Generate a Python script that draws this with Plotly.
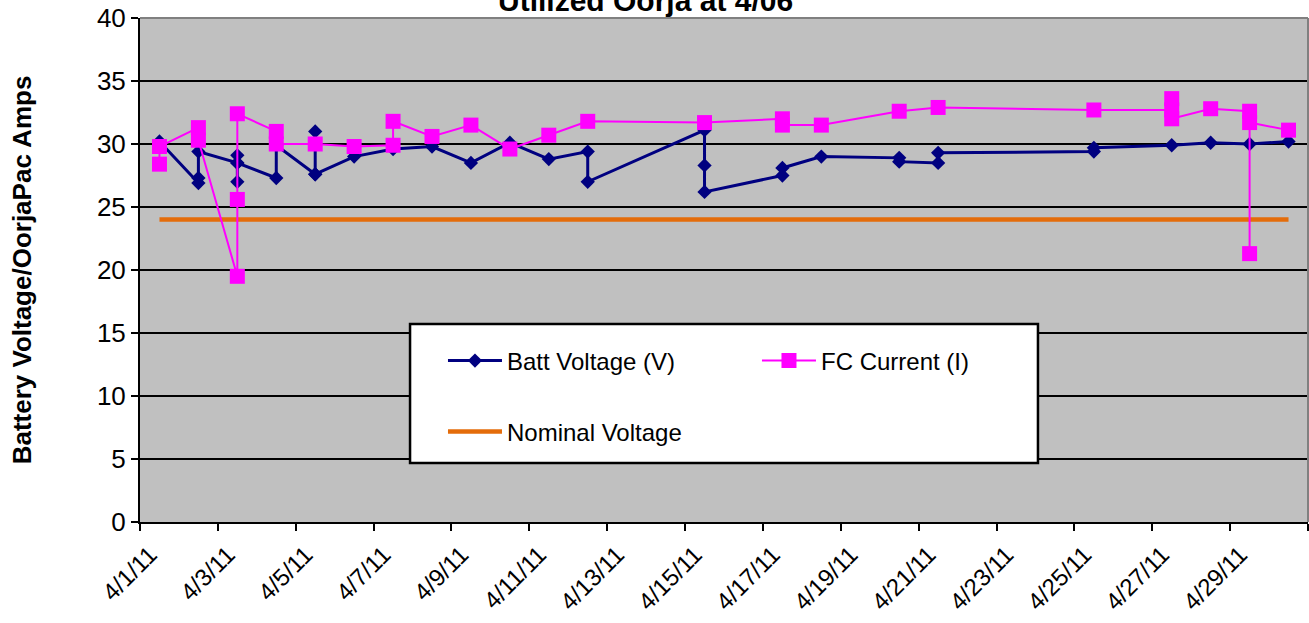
import plotly.graph_objects as go

# Battery voltage readings (V), in logging order
batt_times = [
    "2011-04-01 12:00",
    "2011-04-02 12:00", "2011-04-02 12:00", "2011-04-02 12:00",
    "2011-04-03 12:00", "2011-04-03 12:00", "2011-04-03 12:00", "2011-04-03 12:00",
    "2011-04-04 12:00", "2011-04-04 12:00",
    "2011-04-05 12:00", "2011-04-05 12:00", "2011-04-05 12:00",
    "2011-04-06 12:00",
    "2011-04-07 12:00",
    "2011-04-08 12:00",
    "2011-04-09 12:00",
    "2011-04-10 12:00",
    "2011-04-11 12:00",
    "2011-04-12 12:00", "2011-04-12 12:00",
    "2011-04-15 12:00", "2011-04-15 12:00", "2011-04-15 12:00",
    "2011-04-17 12:00", "2011-04-17 12:00",
    "2011-04-18 12:00",
    "2011-04-20 12:00", "2011-04-20 12:00",
    "2011-04-21 12:00", "2011-04-21 12:00",
    "2011-04-25 12:00", "2011-04-25 12:00",
    "2011-04-27 12:00",
    "2011-04-28 12:00",
    "2011-04-29 12:00",
    "2011-04-30 12:00",
]
batt_volts = [
    30.2,
    26.9, 27.3, 29.4,
    28.5, 27.0, 29.1, 28.5,
    27.3, 29.9,
    27.6, 31.0, 27.6,
    29.0,
    29.6,
    29.8,
    28.5,
    30.1,
    28.8,
    29.4, 27.0,
    31.1, 28.3, 26.2,
    27.5, 28.1,
    29.0,
    28.9, 28.6,
    28.5, 29.3,
    29.4, 29.7,
    29.9,
    30.1,
    30.0,
    30.2,
]

# Fuel cell current readings (A), in logging order
fc_times = [
    "2011-04-01 12:00", "2011-04-01 12:00",
    "2011-04-02 12:00", "2011-04-02 12:00",
    "2011-04-03 12:00", "2011-04-03 12:00", "2011-04-03 12:00",
    "2011-04-04 12:00", "2011-04-04 12:00",
    "2011-04-05 12:00",
    "2011-04-06 12:00",
    "2011-04-07 12:00", "2011-04-07 12:00",
    "2011-04-08 12:00",
    "2011-04-09 12:00",
    "2011-04-10 12:00",
    "2011-04-11 12:00",
    "2011-04-12 12:00",
    "2011-04-15 12:00",
    "2011-04-17 12:00", "2011-04-17 12:00",
    "2011-04-18 12:00",
    "2011-04-20 12:00",
    "2011-04-21 12:00",
    "2011-04-25 12:00",
    "2011-04-27 12:00", "2011-04-27 12:00", "2011-04-27 12:00",
    "2011-04-28 12:00",
    "2011-04-29 12:00", "2011-04-29 12:00", "2011-04-29 12:00",
    "2011-04-30 12:00",
]
fc_amps = [
    28.4, 29.8,
    31.3, 30.3,
    19.5, 25.6, 32.4,
    31.0, 30.0,
    30.0,
    29.8,
    29.9, 31.8,
    30.6,
    31.5,
    29.6,
    30.7,
    31.8,
    31.7,
    32.0, 31.5,
    31.5,
    32.6,
    32.9,
    32.7,
    32.7, 33.6, 32.0,
    32.8,
    32.6, 21.3, 31.7,
    31.1,
]

# Nominal pack voltage reference line
nominal_times = ["2011-04-01 12:00", "2011-04-30 12:00"]
nominal_volts = [24, 24]

# Date axis ticks every two days
tick_dates = [
    "2011-04-01", "2011-04-03", "2011-04-05", "2011-04-07", "2011-04-09",
    "2011-04-11", "2011-04-13", "2011-04-15", "2011-04-17", "2011-04-19",
    "2011-04-21", "2011-04-23", "2011-04-25", "2011-04-27", "2011-04-29",
    "2011-05-01",
]
tick_labels = [
    "4/1/11", "4/3/11", "4/5/11", "4/7/11", "4/9/11",
    "4/11/11", "4/13/11", "4/15/11", "4/17/11", "4/19/11",
    "4/21/11", "4/23/11", "4/25/11", "4/27/11", "4/29/11",
    "",
]

FONT = "Liberation Sans, Arial, sans-serif"
NAVY = "#000080"
MAGENTA = "#FF00FF"
ORANGE = "#E46C0A"

fig = go.Figure()

fig.add_trace(go.Scatter(
    x=nominal_times, y=nominal_volts, name="Nominal Voltage",
    mode="lines", line=dict(color=ORANGE, width=4.5),
    legend="legend2",
))
fig.add_trace(go.Scatter(
    x=batt_times, y=batt_volts, name="Batt Voltage (V)",
    mode="lines+markers",
    line=dict(color=NAVY, width=3),
    marker=dict(symbol="diamond", size=11, color=NAVY),
    legend="legend", legendrank=1,
))
fig.add_trace(go.Scatter(
    x=fc_times, y=fc_amps, name="FC Current (I)",
    mode="lines+markers",
    line=dict(color=MAGENTA, width=2),
    marker=dict(symbol="square", size=15, color=MAGENTA),
    legend="legend", legendrank=2,
))

legend_common = dict(
    orientation="h",
    xanchor="left", yanchor="top",
    bgcolor="rgba(0,0,0,0)", borderwidth=0,
    font=dict(family=FONT, size=24, color="black"),
    itemwidth=54,
    entrywidth=245,
    traceorder="normal",
)

fig.update_layout(
    width=1309, height=623,
    margin=dict(l=140, r=1, t=18, b=101),
    paper_bgcolor="white",
    plot_bgcolor="#C0C0C0",
    font=dict(family=FONT, color="black"),
    legend=dict(x=0.2594, y=0.3641, **legend_common),
    legend2=dict(x=0.2594, y=0.2232, **legend_common),
    xaxis=dict(
        type="date",
        range=["2011-04-01", "2011-05-01"],
        tickmode="array", tickvals=tick_dates, ticktext=tick_labels,
        tickangle=-45,
        ticklabelshift=10,
        ticks="outside", ticklen=7, tickwidth=2, tickcolor="black",
        showline=True, linecolor="black", linewidth=2,
        showgrid=False, zeroline=False,
        tickfont=dict(family=FONT, size=24, color="black"),
    ),
    yaxis=dict(
        range=[0, 40], dtick=5, tick0=0,
        ticks="outside", ticklen=7, tickwidth=2, tickcolor="black",
        showline=True, linecolor="black", linewidth=2,
        showgrid=True, gridcolor="black", gridwidth=2,
        zeroline=False,
        tickfont=dict(family=FONT, size=26, color="black"),
        title=dict(
            text="<b>Battery Voltage/OorjaPac Amps</b>",
            font=dict(family=FONT, size=26, color="black"),
            standoff=58,
        ),
    ),
    shapes=[
        # plot area frame, top and right
        dict(type="line", xref="paper", yref="paper", x0=0, x1=1, y0=1, y1=1,
             line=dict(color="#808080", width=2), layer="above"),
        dict(type="line", xref="paper", yref="paper", x0=1, x1=1, y0=0, y1=1,
             line=dict(color="#808080", width=2), layer="above"),
        # legend box
        dict(type="rect", xref="paper", yref="paper",
             x0=0.2312, x1=0.7688, y0=0.1171, y1=0.3929,
             fillcolor="white", line=dict(color="black", width=2.5),
             layer="above"),
    ],
    annotations=[
        dict(text="<b>Utilized Oorja at 4/06</b>", xref="paper", yref="paper",
             x=0.4332, y=0.998, xanchor="center", yanchor="bottom",
             showarrow=False, font=dict(family=FONT, size=30, color="black")),
    ],
)

fig.write_html("out.html")
